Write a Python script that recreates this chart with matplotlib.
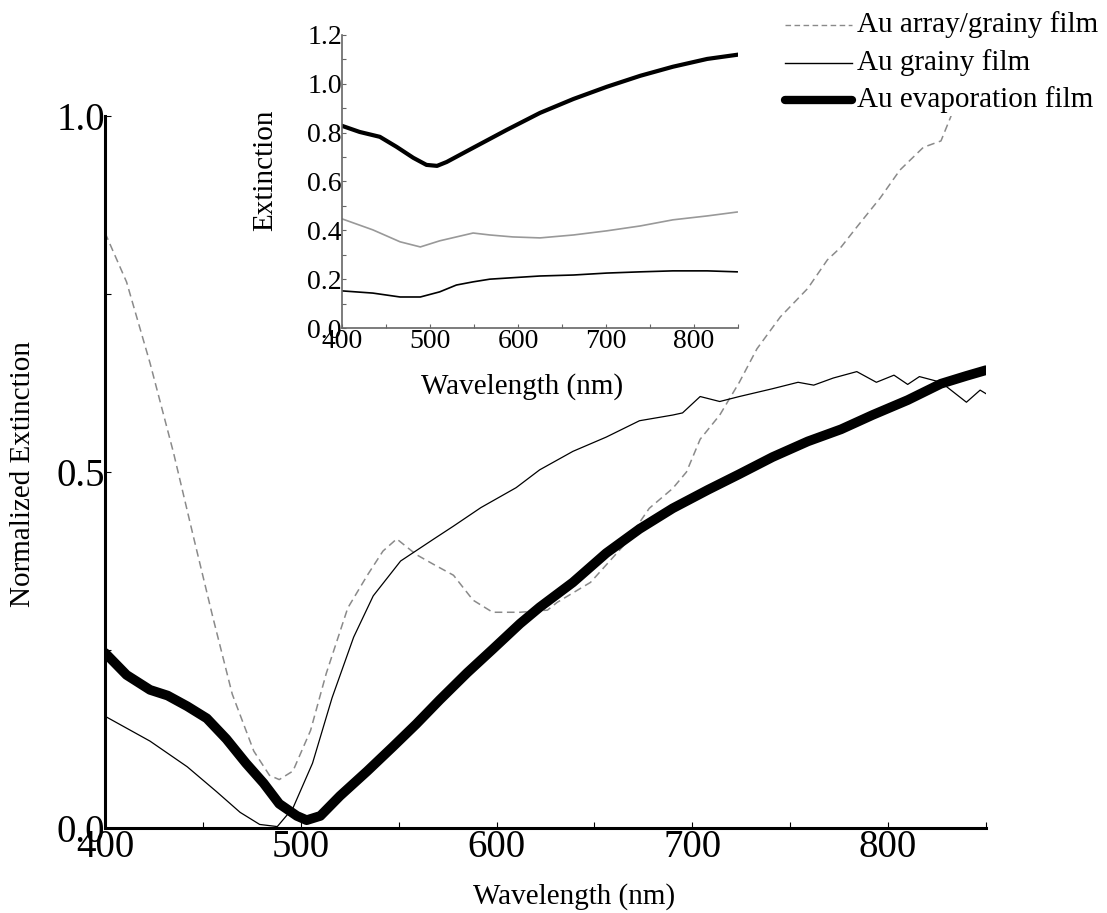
import matplotlib
matplotlib.use("Agg")
from matplotlib import pyplot as plt
from matplotlib.lines import Line2D

plt.rcParams['font.family'] = ['Liberation Serif', 'DejaVu Serif']

# main plot: normalized extinction
evap_nm = [400, 411, 423, 432, 442, 452, 462, 472, 481, 489, 498, 503, 510, 520, 534, 547, 559, 571,
           585, 598, 612, 622, 639, 656, 673, 690, 708, 724, 741, 759, 776, 792, 810, 827, 840, 850]
evap_norm = [0.246, 0.215, 0.194, 0.186, 0.171, 0.154, 0.125, 0.091, 0.063, 0.034, 0.017, 0.011, 0.017,
             0.045, 0.080, 0.114, 0.146, 0.180, 0.218, 0.251, 0.287, 0.310, 0.345, 0.386, 0.420, 0.449,
             0.475, 0.497, 0.521, 0.543, 0.560, 0.580, 0.601, 0.624, 0.635, 0.643]

grainy_nm = [400, 423, 442, 457, 469, 479, 488, 496, 506, 516, 527, 537, 551, 568, 578, 592, 610, 622,
             639, 656, 673, 690, 695, 704, 714, 724, 741, 754, 762, 772, 784, 794, 803, 810, 816, 827,
             840, 847, 850]
grainy_norm = [0.157, 0.122, 0.086, 0.051, 0.022, 0.005, 0.002, 0.028, 0.091, 0.183, 0.268, 0.326,
               0.375, 0.406, 0.424, 0.450, 0.478, 0.503, 0.529, 0.549, 0.572, 0.580, 0.583, 0.606,
               0.599, 0.606, 0.617, 0.626, 0.622, 0.632, 0.641, 0.626, 0.636, 0.623, 0.634, 0.626,
               0.598, 0.615, 0.610]

array_nm = [400, 411, 423, 435, 445, 455, 465, 476, 484, 489, 496, 505, 513, 524, 534, 542, 549, 559,
            568, 578, 588, 598, 612, 626, 631, 648, 665, 678, 690, 697, 704, 714, 724, 733, 745, 759,
            769, 776, 784, 796, 806, 818, 827, 832, 840]
array_norm = [0.836, 0.767, 0.653, 0.527, 0.411, 0.297, 0.188, 0.108, 0.074, 0.068, 0.080, 0.137,
              0.217, 0.309, 0.355, 0.389, 0.406, 0.384, 0.370, 0.355, 0.320, 0.303, 0.303, 0.306,
              0.317, 0.345, 0.397, 0.449, 0.477, 0.500, 0.546, 0.580, 0.626, 0.673, 0.718, 0.758,
              0.798, 0.816, 0.844, 0.885, 0.924, 0.956, 0.965, 0.999, 1.060]

# inset: raw extinction
inset_nm = [400, 420, 443, 462, 481, 496, 508, 519, 549, 587, 625, 663, 701, 739, 776, 815, 849]
inset_evap = [0.828, 0.803, 0.783, 0.742, 0.697, 0.668, 0.664, 0.680, 0.738, 0.811, 0.881, 0.938,
              0.988, 1.033, 1.070, 1.102, 1.119]
inset_nm2 = [400, 435, 466, 489, 511, 530, 549, 568, 594, 625, 663, 701, 739, 776, 815, 849]
inset_array = [0.447, 0.402, 0.353, 0.332, 0.357, 0.373, 0.389, 0.381, 0.373, 0.369, 0.381, 0.398,
               0.418, 0.443, 0.459, 0.475]
inset_grainy = [0.152, 0.143, 0.127, 0.127, 0.148, 0.176, 0.189, 0.200, 0.206, 0.213, 0.217, 0.225,
                0.230, 0.234, 0.234, 0.230]

fig = plt.figure(figsize=(11.07, 9.13), dpi=100)
W, H = 1107.0, 913.0

ax = fig.add_axes([105 / W, 1 - 828 / H, (986 - 105) / W, (828 - 116) / H])
ax.plot(array_nm, array_norm, color='#8a8a8a', lw=1.1, dashes=(5, 3))
ax.plot(grainy_nm, grainy_norm, color='black', lw=0.9)
ax.plot(evap_nm, evap_norm, color='black', lw=7, solid_capstyle='round')
ax.set_xlim(400, 850)
ax.set_ylim(0, 1.0)
for s in ['top', 'right']:
    ax.spines[s].set_visible(False)
for s in ['left', 'bottom']:
    ax.spines[s].set_linewidth(2.2)
ax.set_xticks([400, 500, 600, 700, 800])
ax.set_xticks([450, 550, 650, 750, 850], minor=True)
ax.set_yticks([0.0, 0.5, 1.0])
ax.set_yticks([0.25, 0.75], minor=True)
ax.set_yticklabels(['0.0', '0.5', '1.0'])
ax.tick_params(which='both', direction='in', length=4, width=0.8, labelsize=28, pad=1)
ax.tick_params(axis='y', pad=0)
fig.text(574 / W, 1 - 897 / H, 'Wavelength (nm)', fontsize=21, ha='center', va='center')
fig.text(23 / W, 1 - 474 / H, 'Normalized Extinction', fontsize=21, rotation=90,
         ha='center', va='center')

# inset
ins = fig.add_axes([342 / W, 1 - 328 / H, (738 - 342) / W, (328 - 35) / H])
ins.plot(inset_nm, inset_evap, color='black', lw=3)
ins.plot(inset_nm2, inset_array, color='#999999', lw=1.2)
ins.plot(inset_nm2, inset_grainy, color='black', lw=1.2)
ins.set_xlim(400, 850)
ins.set_ylim(0, 1.2)
for s in ['top', 'right']:
    ins.spines[s].set_visible(False)
for s in ['left', 'bottom']:
    ins.spines[s].set_color('#666666')
    ins.spines[s].set_linewidth(1.2)
ins.set_xticks([400, 500, 600, 700, 800])
ins.set_xticks([450, 550, 650, 750, 850], minor=True)
ins.set_yticks([0.0, 0.2, 0.4, 0.6, 0.8, 1.0, 1.2])
ins.set_yticks([0.1, 0.3, 0.5, 0.7, 0.9, 1.1], minor=True)
ins.set_yticklabels(['0.0', '0.2', '0.4', '0.6', '0.8', '1.0', '1.2'])
ins.tick_params(which='both', direction='in', length=3, width=0.8, color='#666666',
                labelsize=20, pad=1)
ins.tick_params(axis='y', pad=0)
fig.text(522 / W, 1 - 387 / H, 'Wavelength (nm)', fontsize=21, ha='center', va='center')
fig.text(265 / W, 1 - 170 / H, 'Extinction', fontsize=21, rotation=90, ha='center', va='center')

# legend drawn by hand
leg_rows = [('Au array/grainy film', dict(color='#8a8a8a', lw=1.0, dashes=(4, 2.5)), 25),
            ('Au grainy film', dict(color='black', lw=1.0), 63),
            ('Au evaporation film', dict(color='black', lw=6, solid_capstyle='round'), 100)]
for label, style, ypx in leg_rows:
    yy = 1 - ypx / H
    fig.add_artist(Line2D([785 / W, 852 / W], [yy, yy], transform=fig.transFigure, **style))
    fig.text(857 / W, yy, label, fontsize=21, ha='left', va='center')

fig.savefig('out.png', dpi=100)
